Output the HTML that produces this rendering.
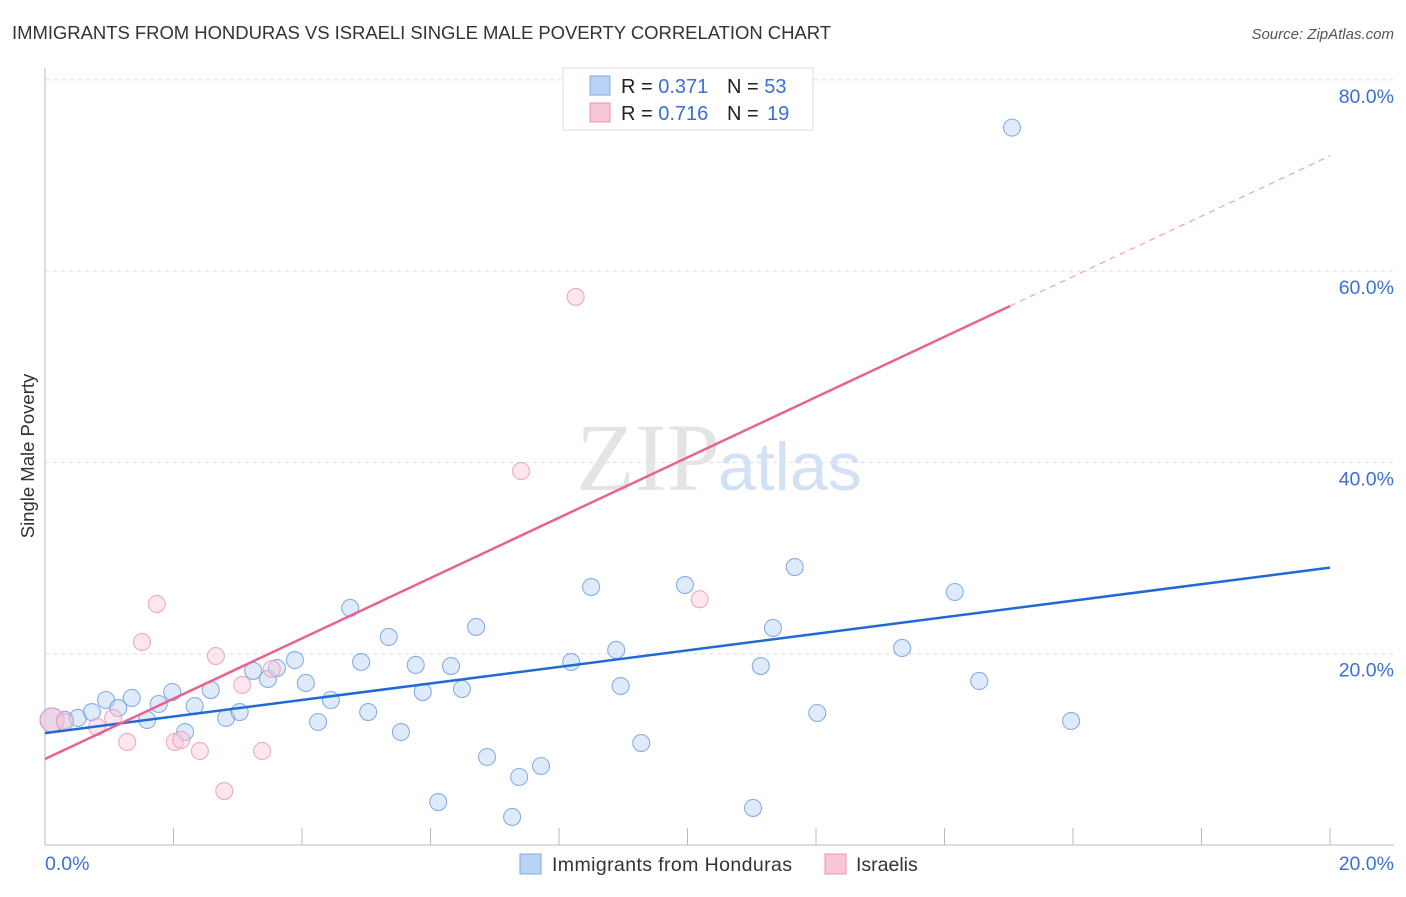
<!DOCTYPE html>
<html><head><meta charset="utf-8"><style>
body{margin:0;background:#fff;font-family:"Liberation Sans",sans-serif}
</style></head><body>
<svg width="1406" height="892" viewBox="0 0 1406 892" xmlns="http://www.w3.org/2000/svg">
<text x="12" y="39" font-size="18.5" fill="#333" textLength="819">IMMIGRANTS FROM HONDURAS VS ISRAELI SINGLE MALE POVERTY CORRELATION CHART</text>
<text x="1394" y="39" font-size="15" fill="#555" font-style="italic" text-anchor="end">Source: ZipAtlas.com</text>
<g id="grid"></g>
<text x="720" y="490" font-size="96" font-family="Liberation Serif,serif" fill="#e4e4e4" text-anchor="end">ZIP</text>
<text x="718" y="490" font-size="68" fill="#d3e1f4">atlas</text>
<g id="marks"></g>
<text x="34" y="456" font-size="18.5" fill="#333" text-anchor="middle" transform="rotate(-90 34 456)">Single Male Poverty</text>
<text x="45" y="870" font-size="19.5" fill="#3a6fd8">0.0%</text>
<text x="1394" y="870" font-size="19.5" fill="#3a6fd8" text-anchor="end">20.0%</text>
<g>
<rect x="563" y="68" width="250" height="62" fill="#fff" stroke="#ddd"/>
<rect x="590" y="76" width="20" height="19" fill="#b9d3f5" stroke="#7fa8e0"/>
<rect x="590" y="103" width="20" height="19" fill="#fac7d6" stroke="#eb93ad"/>
<text x="621" y="93" font-size="20" fill="#222">R = <tspan fill="#3a6fd8">0.371</tspan><tspan x="727">N = </tspan><tspan fill="#3a6fd8">53</tspan></text>
<text x="621" y="120" font-size="20" fill="#222">R = <tspan fill="#3a6fd8">0.716</tspan><tspan x="727">N = </tspan><tspan fill="#3a6fd8" x="767">19</tspan></text>
</g>
<g>
<rect x="520" y="854" width="21" height="20" fill="#b9d3f5" stroke="#7fa8e0"/>
<text x="552" y="871" font-size="19.5" fill="#333" textLength="240">Immigrants from Honduras</text>
<rect x="825" y="854" width="21" height="20" fill="#fac7d6" stroke="#eb93ad"/>
<text x="856" y="871" font-size="19.5" fill="#333">Israelis</text>
</g>
</svg>
<script>
const yTicks=[20,40,60,80];
const xTickCount=10;
const blueX=[0.11,0.31,0.51,0.73,0.95,1.14,1.35,1.59,1.77,1.98,2.18,2.33,2.58,2.82,3.03,3.24,3.47,3.61,3.89,4.06,4.25,4.45,4.75,4.92,5.03,5.35,5.54,5.77,5.88,6.12,6.32,6.49,6.71,6.88,7.27,7.38,7.72,8.19,8.5,8.89,8.96,9.28,9.96,11.02,11.14,11.33,11.67,12.02,13.34,14.16,14.54,15.05,15.97];
const blueY=[13.07,13.07,13.28,13.9,15.16,14.32,15.37,13.07,14.74,15.99,11.81,14.53,16.2,13.28,13.9,18.2,17.36,18.5,19.34,16.94,12.86,15.16,24.78,19.13,13.9,21.75,11.81,18.82,15.99,4.49,18.71,16.31,22.8,9.2,2.93,7.11,8.26,19.13,26.97,20.39,16.62,10.66,27.18,3.87,18.71,22.69,29.06,13.8,20.6,26.45,17.15,75.0,12.96];
const pinkX=[0.11,0.31,0.81,1.06,1.28,1.51,1.74,2.02,2.12,2.41,2.66,2.79,3.07,3.38,3.53,7.41,8.26,10.19];
const pinkY=[13.07,12.86,12.34,13.28,10.77,21.22,25.2,10.77,10.98,9.83,19.76,5.64,16.73,9.83,18.4,39.1,57.3,25.7];
const blueLine=[11.7,29.0];
const pinkLine=[8.99,72.05];
const pinkSolidEnd=15.02;
const X=v=>45+v/20*1285, Y=v=>845-v/20*191.3;
const NS='http://www.w3.org/2000/svg';
function mk(t,a,p){const e=document.createElementNS(NS,t);for(const k in a)e.setAttribute(k,a[k]);p.appendChild(e);return e;}
const g=document.getElementById('grid'), m=document.getElementById('marks');
mk('line',{x1:45,y1:68,x2:45,y2:845,stroke:'#bbb'},g);
mk('line',{x1:45,y1:845,x2:1394,y2:845,stroke:'#bbb'},g);
yTicks.forEach(t=>{
  const l=mk('line',{x1:45,y1:Y(t),x2:1394,y2:Y(t),stroke:'#ddd','stroke-dasharray':'4,4'},g);
  
  
  const tx=mk('text',{x:1394,y:Y(t)+23,'font-size':19.5,fill:'#3a6fd8','text-anchor':'end'},g);
  tx.textContent=t.toFixed(1)+'%';
  
  
});
for(let i=1;i<=xTickCount;i++){
  const l=mk('line',{x1:X(i*2),y1:828,x2:X(i*2),y2:845,stroke:'#bbb'},g);
  
  
}
function dots(xs,ys,fill,stroke,name){
  xs.forEach((x,i)=>{
    const c=mk('circle',{cx:X(x),cy:Y(ys[i]),r:i===0?12:8.5,fill:fill,'fill-opacity':i===0?0.55:0.45,stroke:stroke,'stroke-opacity':0.8,'stroke-width':1.1},m);
    
    
  });
}
dots(blueX,blueY,'#b9d3f5','#6b9be2','honduras-point');
dots(pinkX,pinkY,'#fac7d6','#e898b0','israeli-point');
let bl=mk('line',{x1:X(0),y1:Y(blueLine[0]),x2:X(20),y2:Y(blueLine[1]),stroke:'#1f6ad6','stroke-width':2.5},m);


const pv=x=>pinkLine[0]+(pinkLine[1]-pinkLine[0])*x/20;
let pl=mk('line',{x1:X(0),y1:Y(pv(0)),x2:X(pinkSolidEnd),y2:Y(pv(pinkSolidEnd)),stroke:'#e8638e','stroke-width':2.5},m);


let pd=mk('line',{x1:X(pinkSolidEnd),y1:Y(pv(pinkSolidEnd)),x2:X(20),y2:Y(pv(20)),stroke:'#eea0b8','stroke-width':1.2,'stroke-dasharray':'6,5'},m);


</script>
</body></html>
